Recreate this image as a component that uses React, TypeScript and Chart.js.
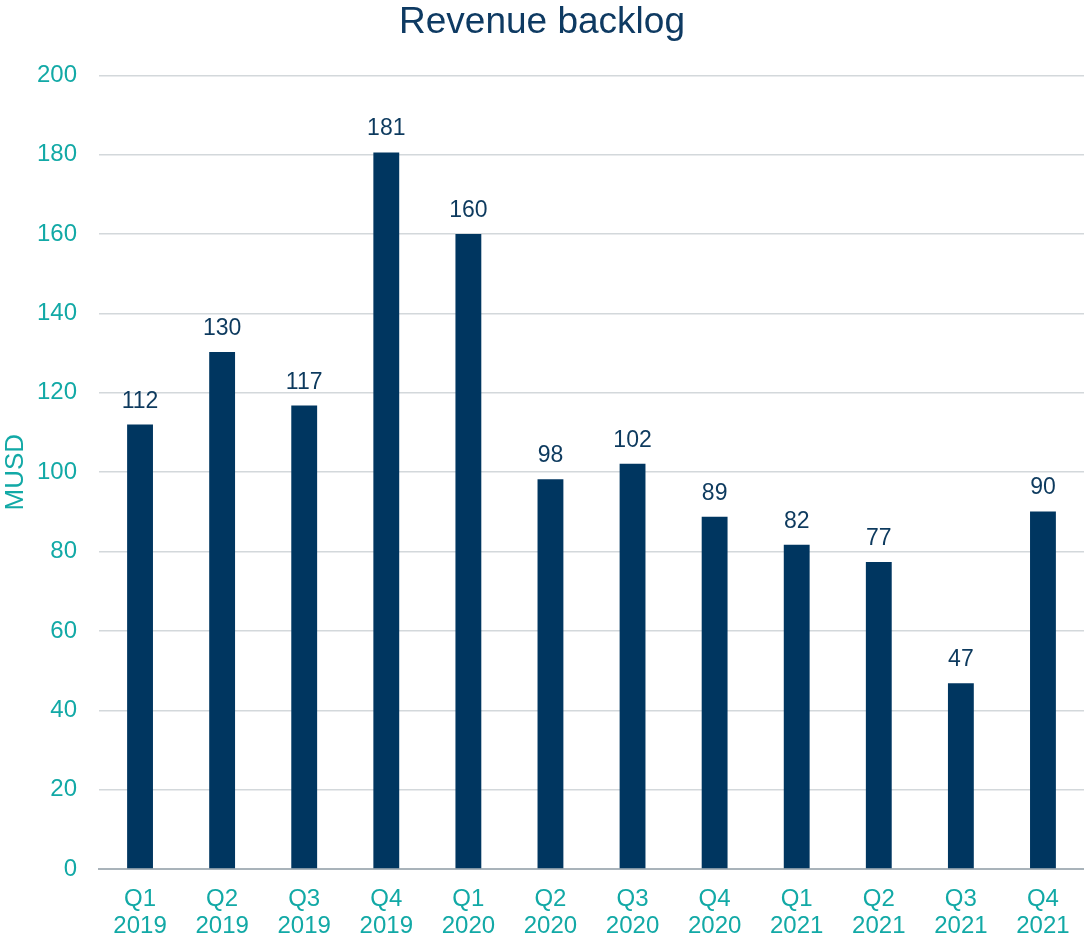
import React, { useEffect, useRef } from "react";
import { Chart, registerables } from "chart.js";

Chart.register(...registerables);

const categories: string[][] = [
  ["Q1", "2019"], ["Q2", "2019"], ["Q3", "2019"], ["Q4", "2019"],
  ["Q1", "2020"], ["Q2", "2020"], ["Q3", "2020"], ["Q4", "2020"],
  ["Q1", "2021"], ["Q2", "2021"], ["Q3", "2021"], ["Q4", "2021"],
];
const backlog: number[] = [112.0, 130.3, 116.8, 180.6, 160.0, 98.2, 102.1, 88.8, 81.7, 77.4, 46.8, 90.1];
const yTicks: number[] = [0, 20, 40, 60, 80, 100, 120, 140, 160, 180, 200];

const NAVY = "#003660";
const TEAL = "#12a9a6";
const FONT = "'Liberation Sans', Arial, sans-serif";

const dataLabels = {
  id: "dataLabels",
  afterDatasetsDraw(chart: any) {
    const ctx = chart.ctx;
    const meta = chart.getDatasetMeta(0);
    ctx.save();
    ctx.font = `23px ${FONT}`;
    ctx.fillStyle = "#0d3a5e";
    ctx.textAlign = "center";
    ctx.textBaseline = "alphabetic";
    meta.data.forEach((bar: any, i: number) => {
      const v = chart.data.datasets[0].data[i] as number;
      ctx.fillText(String(Math.round(v)), bar.x, bar.y - 17);
    });
    ctx.restore();
  },
};

export default function App() {
  const ref = useRef<HTMLCanvasElement>(null);
  useEffect(() => {
    if (!ref.current) return;
    const chart = new Chart(ref.current, {
      type: "bar",
      data: {
        labels: categories,
        datasets: [
          {
            data: backlog,
            backgroundColor: NAVY,
            barPercentage: 0.63,
            categoryPercentage: 0.5,
          },
        ],
      },
      options: {
        animation: false,
        responsive: false,
        maintainAspectRatio: false,
        layout: { padding: { left: 0, right: 0, top: 0, bottom: 0 } },
        plugins: {
          legend: { display: false },
          tooltip: { enabled: false },
          title: {
            display: true,
            text: "Revenue backlog",
            color: "#0e3a62",
            font: { family: FONT, size: 37, weight: "normal" as any },
            padding: { top: 1, bottom: 30 },
          },
        },
        scales: {
          x: {
            grid: { display: false, drawTicks: false },
            border: { display: true, color: "#a9b3ba", width: 2 },
            ticks: {
              color: TEAL,
              font: { family: FONT, size: 24, lineHeight: 1.13 },
              padding: 17,
              maxRotation: 0,
              autoSkip: false,
            },
            afterFit: (s: any) => {
              s.height = 67;
              s.paddingLeft = 0;
              s.paddingRight = 0;
            },
          },
          y: {
            min: 0,
            max: 200,
            afterBuildTicks: (s: any) => {
              s.ticks = yTicks.map((v) => ({ value: v }));
            },
            grid: { color: "#d3d8db", lineWidth: 1.5, drawTicks: false },
            border: { display: false },
            ticks: {
              color: TEAL,
              font: { family: FONT, size: 24 },
              padding: 22,
            },
            title: {
              display: true,
              text: "MUSD",
              color: TEAL,
              font: { family: FONT, size: 26 },
              padding: { top: 0, bottom: 0 },
            },
            afterFit: (s: any) => {
              s.width = 99;
            },
          },
        },
      },
      plugins: [dataLabels],
    });
    return () => chart.destroy();
  }, []);
  return (
    <div style={{ position: "fixed", left: 0, top: 0, width: 1084, height: 936 }}>
      <canvas ref={ref} width={1084} height={936} style={{ width: 1084, height: 936 }} />
    </div>
  );
}
